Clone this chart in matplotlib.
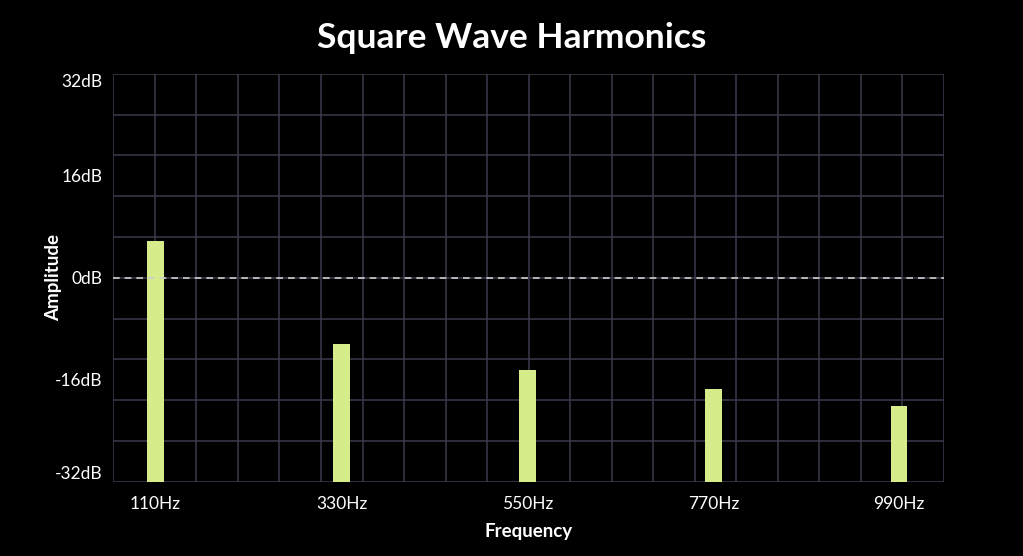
import numpy as np
import matplotlib.pyplot as plt

# datos
frecuencias = [110, 330, 550, 770, 990]
etiquetas_x = ['110Hz', '330Hz', '550Hz', '770Hz', '990Hz']
amplitudes = [5.8, -10.4, -14.4, -17.4, -20.1]
ticks_y = [32, 16, 0, -16, -32]
etiquetas_y = ['32dB', '16dB', '0dB', '-16dB', '-32dB']

fondo = '#000000'
color_grilla = '#3b3a4c'
color_barra = '#d6ec8a'

plt.rcParams['font.family'] = ['Lato', 'DejaVu Sans']

fig = plt.figure(figsize=(10.23, 5.56), dpi=100, facecolor=fondo)
ax = fig.add_axes([0.1108, 0.1336, 0.9228 - 0.1108, 0.8674 - 0.1336])
ax.set_facecolor(fondo)

xmin, xmax = 60, 1043
ymin, ymax = -32, 32
ax.set_xlim(xmin, xmax)
ax.set_ylim(ymin, ymax)

# grilla manual
for x in np.linspace(xmin, xmax, 21):
    ax.axvline(x, color=color_grilla, lw=1.1, zorder=0)
for y in np.linspace(ymin, ymax, 11):
    ax.axhline(y, color=color_grilla, lw=1.1, zorder=0)

# barras desde el fondo del eje
alturas = [a - ymin for a in amplitudes]
ax.bar(frecuencias, alturas, bottom=ymin, width=19.5, color=color_barra, zorder=2)

# linea de 0 dB
ax.axhline(0, color='#cfcfcf', lw=1.2, ls=(0, (4, 3)), zorder=3)

for s in ax.spines.values():
    s.set_visible(False)

ax.set_xticks(frecuencias)
ax.set_xticklabels(etiquetas_x, color='white', fontsize=12.5)
ax.set_yticks(ticks_y)
ax.set_yticklabels(etiquetas_y, color='white', fontsize=12.5)
ax.tick_params(length=0, pad=8)
ax.tick_params(axis='x', pad=10)
labs = ax.get_yticklabels()
labs[0].set_va('top')
labs[-1].set_va('bottom')

ax.set_xlabel('Frequency', color='white', fontsize=13.5, fontweight='bold', labelpad=8)
ax.set_ylabel('Amplitude', color='white', fontsize=13.5, fontweight='bold')
ax.yaxis.set_label_coords(-0.062, 0.5)

fig.suptitle('Square Wave Harmonics', color='white', fontsize=25.5, fontweight='bold', y=0.96)

fig.savefig('out.png', dpi=100, facecolor=fondo)
